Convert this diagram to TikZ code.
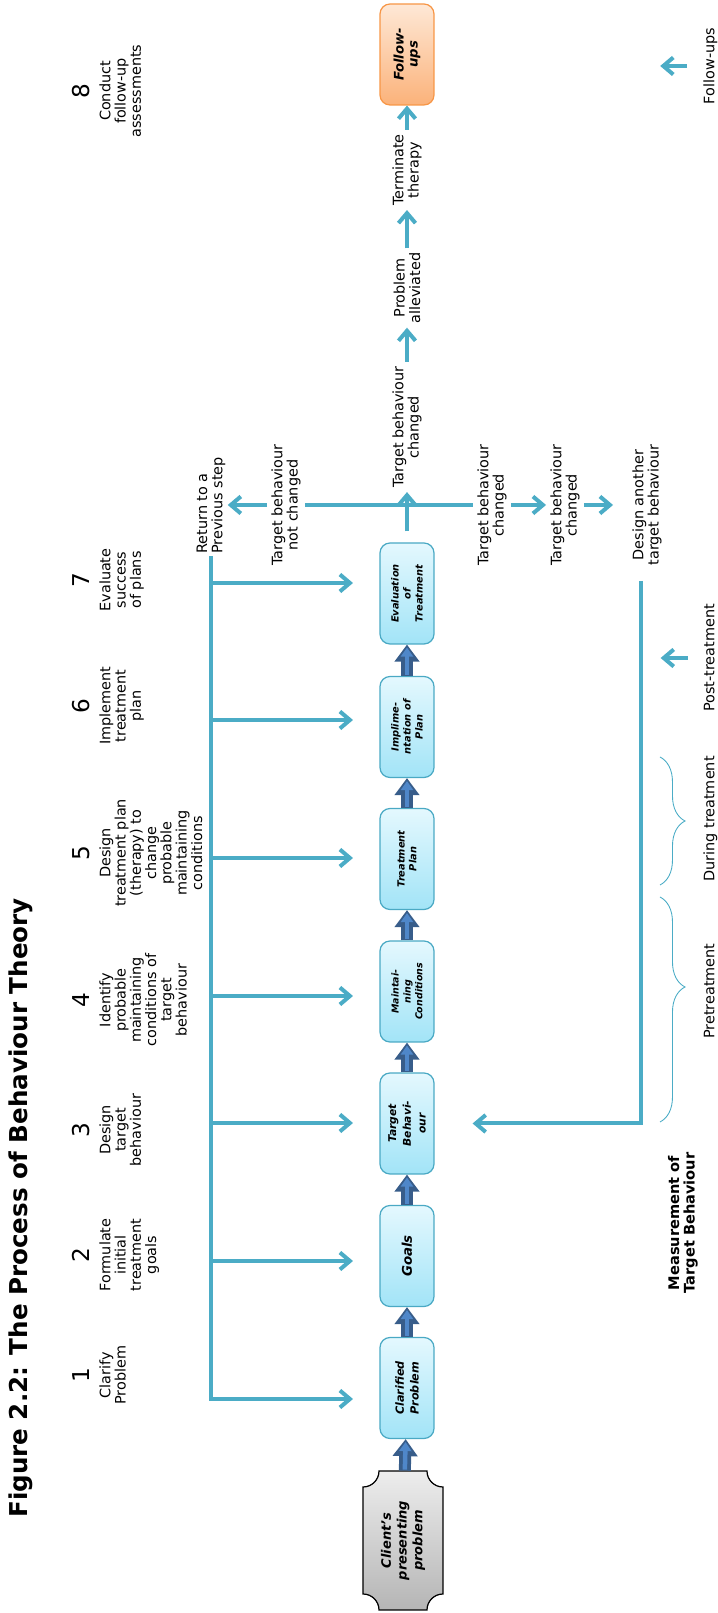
\documentclass[tikz,border=0pt]{standalone}
\usepackage{fontspec}
\setmainfont{DejaVu Sans}
\newfontfamily\titlefont{DejaVu Sans}
\usetikzlibrary{arrows.meta,decorations.pathreplacing,positioning}

\definecolor{flowblue}{HTML}{4BACC6}
\definecolor{stageline}{HTML}{4AA9C4}
\definecolor{stagelight}{HTML}{E4F8FE}
\definecolor{stagedark}{HTML}{A2E4F7}
\definecolor{followline}{HTML}{F79646}
\definecolor{followlight}{HTML}{FEE8D6}
\definecolor{followdark}{HTML}{FBB27A}
\definecolor{clientlight}{HTML}{EDEDED}
\definecolor{clientdark}{HTML}{B5B5B5}
\definecolor{pushdark}{HTML}{385D8A}
\definecolor{pushlight}{HTML}{4F87C9}

\tikzset{
  stage/.style={draw=stageline, line width=0.7pt, rounded corners=0.2cm,
    top color=stagelight, bottom color=stagedark,
    minimum width=2.02cm, minimum height=1.08cm, inner sep=1pt, align=center,
    font=\bfseries\itshape\fontsize{5.6}{6.8}\selectfont},
  stagesize/.style 2 args={font=\bfseries\itshape\fontsize{#1}{#2}\selectfont},
  followbox/.style={stage, draw=followline, top color=followlight, bottom color=followdark},
  plaque/.style={draw=black, line width=0.7pt, top color=clientlight, bottom color=clientdark},
  push/.style={draw=pushdark, line width=0.24cm, -{Triangle[length=0.34cm,width=0.48cm]},
    postaction={draw=pushlight, line width=0.09cm, shorten <=0.02cm, shorten >=0.06cm,
      -{Triangle[length=0.18cm,width=0.24cm]}}},
  flow/.style={draw=flowblue, line width=0.08cm},
  flowarr/.style={flow, -{Straight Barb[length=0.2cm,width=0.34cm]}},
  steptext/.style={align=center, inner sep=0pt, font=\fontsize{8.2}{8.7}\selectfont},
  stepnum/.style={inner sep=0pt, font=\fontsize{13.2}{15}\selectfont},
  note/.style={align=center, inner sep=0.08cm, font=\fontsize{8.2}{8.7}\selectfont},
  phase/.style={inner sep=0pt, anchor=base, font=\fontsize{8.2}{8.7}\selectfont},
  span/.style={draw=flowblue, line width=0.5pt, decorate, decoration={brace, amplitude=0.5cm}},
}

\begin{document}
\begin{tikzpicture}[x=0.02cm, y=0.02cm, rotate=90, transform shape]
\useasboundingbox (0,0) rectangle (1613,717);

% title
\node[font=\titlefont\bfseries\fontsize{14}{16}\selectfont] (title) at (405,696)
  {Figure 2.2: The Process of Behaviour Theory};

% steps 1-8
\foreach \u/\nr/\txt in {238/1/{Clarify\\Problem},
    358/2/{Formulate\\initial\\treatment\\goals},
    483/3/{Design\\target\\behaviour},
    613/4/{Identify\\probable\\maintaining\\conditions of\\target\\behaviour},
    760/5/{Design\\treatment plan\\(therapy) to\\change\\probable\\maintaining\\conditions},
    907/6/{Implement\\treatment\\plan},
    1033/7/{Evaluate\\success\\of plans},
    1522/8/{Conduct\\follow-up\\assessments}} {
  \node[stepnum, anchor=base] (num\nr) at (\u,627) {\nr};
  \node[steptext, anchor=north] (step\nr) at (\u,618) {\txt};
}

% client box
\coordinate (clientsw) at (3,274);
\path[plaque] (clientsw) ++(0,16) -- ++(0,48) arc[start angle=270, end angle=360, radius=0.32cm]
  -- ++(107,0) arc[start angle=180, end angle=270, radius=0.32cm]
  -- ++(0,-48) arc[start angle=90, end angle=180, radius=0.32cm]
  -- ++(-107,0) arc[start angle=0, end angle=90, radius=0.32cm] -- cycle;
\node[align=center, minimum width=2.78cm, minimum height=1.6cm, inner sep=0pt,
  stagesize={7.4}{9}] (client) at (72.5,314) {Client’s\\presenting\\problem};

% stages
\node[stage, stagesize={6.4}{8.4}] (clar) at (225,310) {Clarified\\Problem};
\node[stage, stagesize={7.6}{8.4}] (goals) at (357,310) {Goals};
\node[stage, stagesize={6.1}{8.4}] (target) at (489.5,310) {Target\\Behavi-\\our};
\node[stage, stagesize={5.4}{6.8}] (maint) at (621.5,310) {Maintai-\\ning\\Conditions};
\node[stage] (treat) at (754,310) {Treatment\\Plan};
\node[stage] (impl) at (886,310) {Implime-\\ntation of\\Plan};
\node[stage] (eval) at (1019.5,310) {Evaluation\\of\\Treatment};
\node[followbox, stagesize={7.5}{8}] (follow) at (1558.5,310) {Follow-\\ups};

\foreach \a/\b in {client/clar, clar/goals, goals/target, target/maint,
    maint/treat, treat/impl, impl/eval}
  \draw[push] (\a) -- (\b);

% trunk and branches
\node[note, anchor=west, align=left, inner sep=0.04cm] (return) at (1057,506)
  {Return to a\\Previous step};
\coordinate (corner) at (214,506);
\draw[flowarr] (return.west) -- (corner) -- (214,364);
\foreach \u in {352,490,617,755,893,1030}
  \draw[flowarr] (\u,506) -- (\u,364);

% evaluation outcome
\node[note] (tbc) at (1186,310) {Target behaviour\\changed};
\node[note] (alleviated) at (1325,310) {Problem\\alleviated};
\node[note] (terminate) at (1443,310) {Terminate\\therapy};
\draw[flowarr] ([xshift=0.22cm]eval.east) -- (tbc);
\draw[flowarr] (tbc) -- (alleviated);
\draw[flowarr] (alleviated) -- (terminate);
\draw[flowarr] (terminate) -- (follow);

\node[note] (notch) at (1108,431) {Target behaviour\\not changed};
\node[note] (changed) at (1108,225) {Target behaviour\\changed};
\node[note] (changedb) at (1108,152) {Target behaviour\\changed};
\node[note] (design) at (1108,70) {Design another\\target behaviour};
\draw[flow] (notch) -- (changed);
\draw[flowarr] (notch) -- (notch |- return.south);
\draw[flowarr] (changed) -- (changedb);
\draw[flowarr, shorten >=0.3cm] (changedb) -- (design);

% measurement
\coordinate (mstart) at (1032,76);
\draw[flowarr] (mstart) -| ([yshift=-0.76cm]target.south);
\node[align=center, font=\bfseries\fontsize{8.3}{8.8}\selectfont] (measure) at (390,34)
  {Measurement of\\Target Behaviour};

\draw[span, decoration={aspect=0.4}] (716,57) -- (491,57);
\draw[span] (856,57) -- (728,57);
\node[phase] (pre) at (622,2.5) {Pretreatment};
\node[phase] (during) at (794,2.5) {During treatment};
\node[phase] (post) at (955,2.5) {Post-treatment};
\node[phase] (fu) at (1547,2.5) {Follow-ups};
\draw[flowarr] (post.north) ++(0,16) -- ++(0,27);
\draw[flowarr] (fu.north) ++(0,16) -- ++(0,27);

\end{tikzpicture}
\end{document}
